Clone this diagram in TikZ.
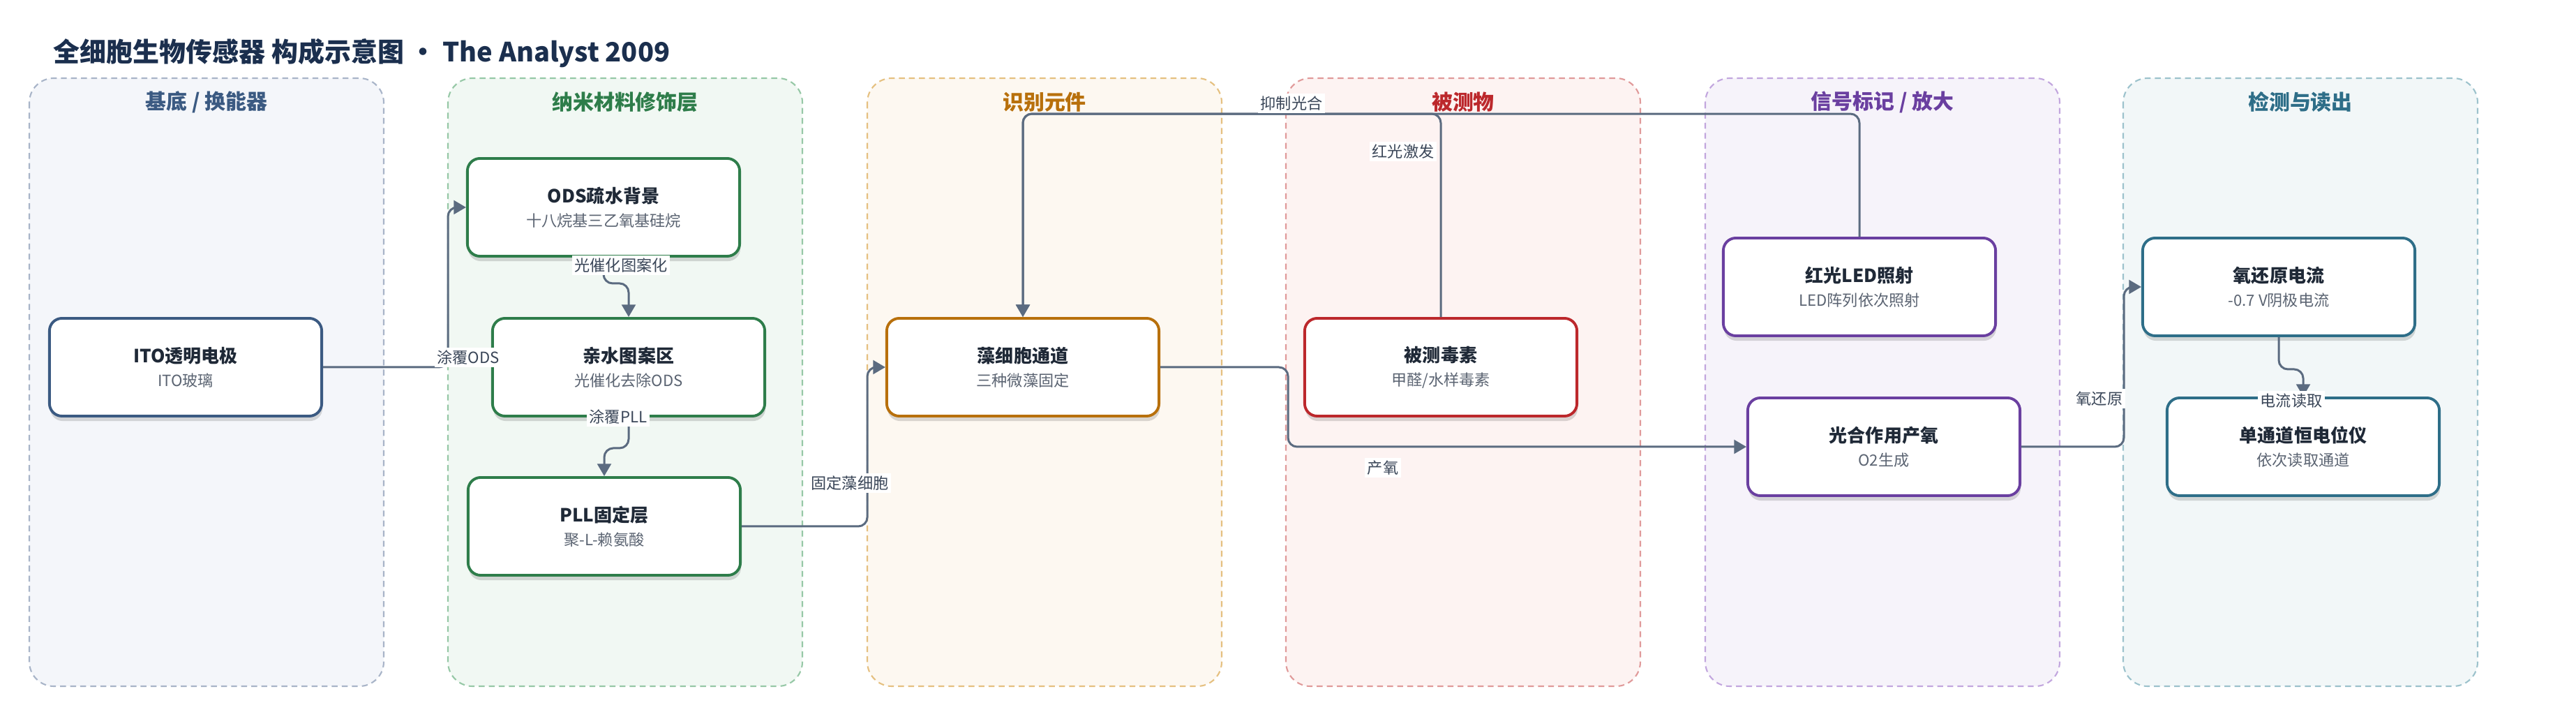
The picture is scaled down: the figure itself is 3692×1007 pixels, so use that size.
\documentclass[tikz,border=0pt]{standalone}
\usepackage{fontspec}
\setmainfont{Noto Sans CJK SC}
\usepackage{xcolor}
\usepackage{tikz}
\usetikzlibrary{arrows.meta,positioning,shadows}
\definecolor{titleInk}{HTML}{1B2F4E}
\definecolor{cardInk}{HTML}{1F2937}
\definecolor{subInk}{HTML}{5B6472}
\definecolor{edgeLine}{HTML}{5B6B80}
\definecolor{edgeInk}{HTML}{3A4658}
\definecolor{baseFill}{HTML}{F4F6FA}\definecolor{baseLine}{HTML}{A8B4C8}\definecolor{baseInk}{HTML}{3B5A82}
\definecolor{nanoFill}{HTML}{F1F8F3}\definecolor{nanoLine}{HTML}{96C8A6}\definecolor{nanoInk}{HTML}{2E7D4A}
\definecolor{recoFill}{HTML}{FDF8F1}\definecolor{recoLine}{HTML}{E5C080}\definecolor{recoInk}{HTML}{B8700C}
\definecolor{anaFill}{HTML}{FDF3F2}\definecolor{anaLine}{HTML}{E09A9A}\definecolor{anaInk}{HTML}{BC282C}
\definecolor{sigFill}{HTML}{F6F3FA}\definecolor{sigLine}{HTML}{C2A6DE}\definecolor{sigInk}{HTML}{6A3FA0}
\definecolor{readFill}{HTML}{F2F7F8}\definecolor{readLine}{HTML}{9CC2CC}\definecolor{readInk}{HTML}{2E6E88}

\newcommand{\cardtext}[2]{\textbf{#1}\\{\color{subInk}\fontsize{6.3}{9.7}\selectfont #2}}

\tikzset{
  lane/.style={fill=#1Fill, draw=#1Line, line width=0.6pt, dash pattern=on 2.4pt off 1.7pt, rounded corners=0.35cm},
  lanehead/.style={text=#1Ink, font=\bfseries\fontsize{8.5}{10}\selectfont},
  card/.style={draw=#1Ink, fill=white, line width=1.1pt, rounded corners=0.18cm,
    minimum width=3.9cm, minimum height=1.4cm, align=center, text=cardInk,
    font=\fontsize{7.4}{9.7}\selectfont,
    drop shadow={shadow xshift=0.3pt, shadow yshift=-2pt, opacity=0.14, fill=black}},
  flow/.style={draw=edgeLine, line width=0.85pt, rounded corners=0.13cm, -{Triangle[length=5pt,width=5.6pt]}},
  elabel/.style={fill=white, text=edgeInk, inner sep=1pt, font=\fontsize{6.3}{7.5}\selectfont}
}

\begin{document}
\begin{tikzpicture}[x=0.01cm, y=-0.01cm]
  \useasboundingbox (0,0) rectangle (3692,1007);
  \def\lw{508}\def\ltop{112}\def\lbot{983}
  \node[anchor=west, text=titleInk, font=\bfseries\fontsize{10.8}{12}\selectfont, inner sep=0pt] (title) at (76,76) {全细胞生物传感器 构成示意图 • The Analyst 2009};

  % lanes
  \draw[lane=base] (42,\ltop) rectangle (42+\lw,\lbot);
  \draw[lane=nano] (642,\ltop) rectangle (642+\lw,\lbot);
  \draw[lane=reco] (1243,\ltop) rectangle (1243+\lw,\lbot);
  \draw[lane=ana] (1843,\ltop) rectangle (1843+\lw,\lbot);
  \draw[lane=sig] (2444,\ltop) rectangle (2444+\lw,\lbot);
  \draw[lane=read] (3043,\ltop) rectangle (3043+\lw,\lbot);
  \node[lanehead=base] (hbase) at (296,146) {基底 / 换能器};
  \node[lanehead=nano] (hnano) at (896,146) {纳米材料修饰层};
  \node[lanehead=reco] (hreco) at (1497,146) {识别元件};
  \node[lanehead=ana] (hana) at (2097,146) {被测物};
  \node[lanehead=sig] (hsig) at (2698,146) {信号标记 / 放大};
  \node[lanehead=read] (hread) at (3297,146) {检测与读出};

  % cards
  \node[card=base] (ito) at (266,526) {\cardtext{ITO透明电极}{ITO玻璃}};
  \node[card=nano] (ods) at (865,297) {\cardtext{ODS疏水背景}{十八烷基三乙氧基硅烷}};
  \node[card=nano] (hydro) at (901,526) {\cardtext{亲水图案区}{光催化去除ODS}};
  \node[card=nano] (pll) at (866,754) {\cardtext{PLL固定层}{聚-L-赖氨酸}};
  \node[card=reco] (algae) at (1466,526) {\cardtext{藻细胞通道}{三种微藻固定}};
  \node[card=ana] (toxin) at (2065,526) {\cardtext{被测毒素}{甲醛/水样毒素}};
  \node[card=sig] (led) at (2665,411) {\cardtext{红光LED照射}{LED阵列依次照射}};
  \node[card=sig] (photo) at (2700,640) {\cardtext{光合作用产氧}{O2生成}};
  \node[card=read] (redox) at (3266,411) {\cardtext{氧还原电流}{-0.7 V阴极电流}};
  \node[card=read] (pstat) at (3301,640) {\cardtext{单通道恒电位仪}{依次读取通道}};

  % connectors
  \draw[flow] (ito.east) -- ++(179,0) |- (ods.west);
  \draw[flow] (ods.south) -- ++(0,37) -| (hydro.north);
  \draw[flow] (hydro.south) -- ++(0,44) -| (pll.north);
  \draw[flow] (pll.east) -- ++(180,0) |- (algae.west);
  \draw[flow] (algae.east) -- ++(183,0) |- (photo.west);
  \draw[flow] (toxin.north) -- ++(0,-291) -| (algae.north);
  \draw[flow] (led.north) -- ++(0,-176) -| (algae.north);
  \draw[flow] (photo.east) -- ++(147,0) |- (redox.west);
  \draw[flow] (redox.south) -- ++(0,46) -| (pstat.north);

  \node[elabel] (l1) at (671,512) {涂覆ODS};
  \node[elabel] (l2) at (890,380) {光催化图案化};
  \node[elabel] (l3) at (886,597) {涂覆PLL};
  \node[elabel] (l4) at (1218,692) {固定藻细胞};
  \node[elabel] (l5) at (1982,670) {产氧};
  \node[elabel] (l6) at (1851,148) {抑制光合};
  \node[elabel] (l7) at (2011,217) {红光激发};
  \node[elabel] (l8) at (3009,571) {氧还原};
  \node[elabel] (l9) at (3284,574) {电流读取};
\end{tikzpicture}
\end{document}
